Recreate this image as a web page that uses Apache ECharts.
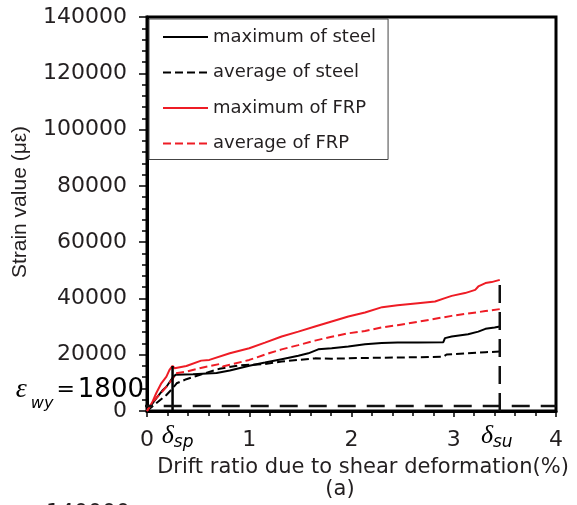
<!DOCTYPE html>
<html><head><meta charset="utf-8">
<script src="https://cdn.jsdelivr.net/npm/echarts@6/dist/echarts.min.js"></script>
<style>html,body{margin:0;padding:0;background:#fff}#c{width:577px;height:505px}</style>
</head><body><div id="c"></div>
<script>
// ---- data (drift ratio %, strain με) ----
const seriesNames = ['maximum of steel','average of steel','maximum of FRP','average of FRP'];
const maxSteel = [[0,0],[0.09,4500],[0.156,7500],[0.19,8600],[0.25,11800],[0.28,12900],[0.45,13100],[0.68,13500],[0.81,14400],[1.0,16100],[1.154,17200],[1.317,18400],[1.48,19600],[1.578,20500],[1.675,21900],[1.806,22300],[1.969,22900],[2.132,23700],[2.295,24200],[2.45,24300],[2.65,24300],[2.898,24450],[2.914,25900],[2.98,26450],[3.14,27300],[3.24,28200],[3.31,29200],[3.40,29650],[3.45,30000]];
const avgSteel = [[0,0],[0.108,3300],[0.19,5700],[0.25,8000],[0.29,9850],[0.385,11300],[0.52,12900],[0.71,15000],[0.9,16200],[1.0,16400],[1.154,16700],[1.317,17550],[1.48,18150],[1.643,18700],[1.806,18600],[2.132,18850],[2.425,19000],[2.65,19100],[2.9,19300],[2.93,20100],[3.14,20500],[3.31,20900],[3.45,21100]];
const maxFRP = [[0,0],[0.05,3000],[0.09,6300],[0.14,9850],[0.19,12200],[0.22,14600],[0.25,16000],[0.27,15200],[0.385,16000],[0.53,17900],[0.61,18150],[0.81,20500],[1.0,22300],[1.154,24300],[1.317,26450],[1.48,28200],[1.643,30000],[1.806,31800],[1.969,33550],[2.132,35000],[2.3,36900],[2.45,37600],[2.65,38300],[2.817,38900],[2.914,40100],[2.98,40900],[3.11,41900],[3.21,43050],[3.24,44250],[3.31,45450],[3.37,45800],[3.45,46600]];
const avgFRP = [[0,0],[0.059,3300],[0.156,7200],[0.25,11300],[0.28,13400],[0.385,14000],[0.515,15200],[0.71,16700],[0.74,15800],[0.81,16400],[1.0,18150],[1.2,20600],[1.317,21900],[1.48,23400],[1.643,25000],[1.806,26400],[1.969,27600],[2.132,28400],[2.295,29700],[2.45,30500],[2.65,31700],[2.98,33800],[3.31,35500],[3.45,36200]];
const deltaSp = 0.25, deltaSpTop = 16000;
const deltaSu = 3.45, deltaSuTop = 46600;
const epsWy = 1800;
const xTicks = [0,1,2,3,4];
const yTicks = [0,20000,40000,60000,80000,100000,120000,140000];
const xAxisName = 'Drift ratio due to shear deformation(%)';
const yAxisName = 'Strain value (με)';

const RED = '#ee1c25', BLK = '#000', TXT = '#231f20';
const F = 'DejaVu Sans';

const chart = echarts.init(document.getElementById('c'), null, {renderer:'canvas'});
const option = {
  animation:false,
  backgroundColor:'#fff',
  grid:{left:147,right:21,top:17,bottom:94,show:true,borderColor:BLK,borderWidth:3,backgroundColor:'transparent'},
  legend:{
    data:seriesNames, orient:'vertical', left:149, top:19,
    backgroundColor:'#fff', borderColor:'#444', borderWidth:1,
    padding:[8,12,6,13], itemGap:15.5, itemWidth:45, itemHeight:14,
    itemStyle:{opacity:0},
    textStyle:{fontFamily:F,fontSize:18,color:TXT,lineHeight:20}
  },
  xAxis:{type:'value',min:xTicks[0],max:xTicks[xTicks.length-1],interval:1,
    name:xAxisName,nameLocation:'middle',nameGap:39,
    nameTextStyle:{fontFamily:F,fontSize:21,color:TXT,lineHeight:24,padding:[0,0,0,23]},
    axisLine:{show:true,lineStyle:{color:BLK,width:3}},
    axisTick:{show:true,inside:false,length:6,lineStyle:{color:BLK,width:1.5}},
    minorTick:{show:true,splitNumber:5,length:5,lineStyle:{color:BLK,width:1.5}},
    axisLabel:{fontFamily:F,fontSize:22,color:TXT,margin:18,formatter:v=>String(v)},
    splitLine:{show:false}},
  yAxis:{type:'value',min:yTicks[0],max:yTicks[yTicks.length-1],interval:20000,
    name:yAxisName,nameLocation:'middle',nameGap:113,nameRotate:90,
    nameTextStyle:{fontFamily:'Liberation Sans',fontSize:21,color:TXT,lineHeight:24,padding:[0,0,0,24]},
    axisLine:{show:true,lineStyle:{color:BLK,width:3}},
    axisTick:{show:true,inside:false,length:8,lineStyle:{color:BLK,width:1.5}},
    minorTick:{show:true,splitNumber:5,length:5,lineStyle:{color:BLK,width:1.5}},
    axisLabel:{fontFamily:F,fontSize:22,color:TXT,margin:20,formatter:v=>String(v)},
    splitLine:{show:false}},
  series:[
    {name:seriesNames[0],type:'line',data:maxSteel,symbol:'none',lineStyle:{color:BLK,width:2},itemStyle:{color:BLK}},
    {name:seriesNames[1],type:'line',data:avgSteel,symbol:'none',lineStyle:{color:BLK,width:2,type:[8,4]},itemStyle:{color:BLK}},
    {name:seriesNames[2],type:'line',data:maxFRP,symbol:'none',lineStyle:{color:RED,width:2},itemStyle:{color:RED}},
    {name:seriesNames[3],type:'line',data:avgFRP,symbol:'none',lineStyle:{color:RED,width:2,type:[8,4]},itemStyle:{color:RED}},
    {name:'dsp',type:'line',data:[[deltaSp,0],[deltaSp,deltaSpTop]],symbol:'none',lineStyle:{color:BLK,width:2.5}},
    {name:'dsu',type:'line',data:[[deltaSu,0],[deltaSu,deltaSuTop]],symbol:'none',lineStyle:{color:'#111',width:2.5,type:[18,9]}},
    {name:'eps',type:'line',clip:false,data:[[-0.12,epsWy],[4,epsWy]],symbol:'none',lineStyle:{color:'#111',width:2.5,type:[18,11]}}
  ]
};
chart.setOption(option);

const pSp = chart.convertToPixel({gridIndex:0},[deltaSp,0]);
const pSu = chart.convertToPixel({gridIndex:0},[deltaSu,0]);
const pEps = chart.convertToPixel({gridIndex:0},[0,epsWy]);
const deltaRich = {
  d:{fontFamily:'Liberation Serif',fontStyle:'italic',fontSize:26,color:TXT,lineHeight:26,verticalAlign:'middle'},
  s:{fontFamily:F,fontStyle:'italic',fontSize:17,color:TXT,lineHeight:20,verticalAlign:'bottom',padding:[0,0,-2,0]}
};
chart.setOption({graphic:[
  {type:'text',x:pSp[0]+5,y:pSp[1]+12,style:{text:'{d|δ}{s|sp}',rich:deltaRich,align:'center',verticalAlign:'top'}},
  {type:'text',x:pSu[0]-3,y:pSu[1]+12,style:{text:'{d|δ}{s|su}',rich:deltaRich,align:'center',verticalAlign:'top'}},
  {type:'text',x:pEps[0]-3,y:pEps[1]-16,style:{text:'{e|ε}{w|wy}{q|=}{n|1800}',align:'right',verticalAlign:'middle',rich:{
    e:{fontFamily:'Liberation Serif',fontStyle:'italic',fontSize:28,color:TXT,lineHeight:28,verticalAlign:'middle',padding:[0,4,0,0]},
    w:{fontFamily:F,fontStyle:'italic',fontSize:16,color:TXT,lineHeight:20,verticalAlign:'bottom',padding:[0,3,-8,0]},
    q:{fontFamily:F,fontSize:22,color:TXT,lineHeight:28,verticalAlign:'middle',padding:[0,3,0,0]},
    n:{fontFamily:F,fontSize:26,color:TXT,lineHeight:28,verticalAlign:'middle'}}}},
  {type:'text',x:340,y:479,style:{text:'(a)',fontFamily:F,fontSize:21,fill:TXT,align:'center',verticalAlign:'top'}},
  {type:'text',x:130,y:502,style:{text:'140000',fontFamily:F,fontSize:22,fill:TXT,align:'right',verticalAlign:'top'}}
]});
</script>
</body></html>
